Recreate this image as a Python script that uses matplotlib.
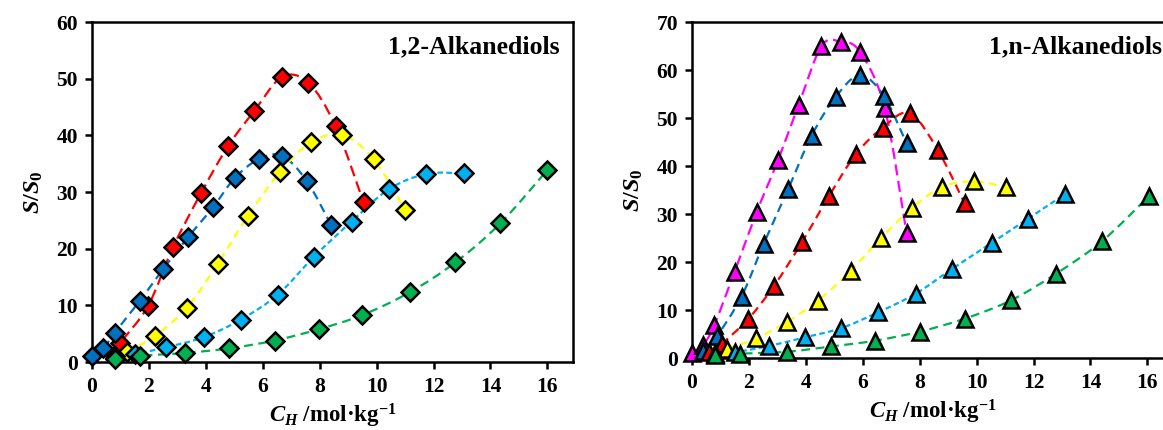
import matplotlib
matplotlib.use("Agg")
import matplotlib.pyplot as plt
from matplotlib.path import Path
from matplotlib.patches import PathPatch
import numpy as np

plt.rcParams['font.family'] = ['Liberation Serif', 'DejaVu Serif']
plt.rcParams['font.weight'] = 'bold'
plt.rcParams['mathtext.fontset'] = 'custom'
plt.rcParams['mathtext.rm'] = 'Liberation Serif:bold'
plt.rcParams['mathtext.bf'] = 'Liberation Serif:bold'
plt.rcParams['mathtext.it'] = 'Liberation Serif:italic:bold'

# ---- 1,2-alkanediols (diamonds) ----
l_red_x = [0.8, 1.0, 1.97, 2.85, 3.83, 4.78, 5.7, 6.67, 7.6, 8.56, 9.54]
l_red_y = [1.2, 3.4, 9.9, 20.3, 29.8, 38.1, 44.3, 50.3, 49.3, 41.6, 28.2]
l_dblue_x = [0.0, 0.4, 0.8, 1.68, 2.5, 3.37, 4.25, 5.02, 5.86, 6.67, 7.54, 8.4]
l_dblue_y = [1.0, 2.4, 5.2, 10.8, 16.4, 22.0, 27.3, 32.5, 35.8, 36.4, 32.0, 24.2]
l_yel_x = [0.8, 1.23, 2.2, 3.33, 4.41, 5.48, 6.6, 7.7, 8.8, 9.9, 11.0]
l_yel_y = [0.8, 1.8, 4.6, 9.6, 17.3, 25.8, 33.5, 38.8, 40.0, 35.8, 26.8]
l_lblue_x = [0.8, 1.5, 2.6, 3.93, 5.23, 6.53, 7.8, 9.12, 10.43, 11.75, 13.06]
l_lblue_y = [1.0, 1.4, 2.6, 4.4, 7.5, 11.9, 18.6, 24.8, 30.5, 33.2, 33.3]
l_green_x = [0.8, 1.68, 3.26, 4.8, 6.42, 7.97, 9.5, 11.16, 12.77, 14.35, 16.0]
l_green_y = [0.6, 1.1, 1.6, 2.4, 3.8, 5.8, 8.3, 12.3, 17.6, 24.5, 33.9]

# ---- 1,n-alkanediols (triangles) ----
r_mag_x = [0.0, 0.4, 0.78, 1.5, 2.28, 3.03, 3.75, 4.55, 5.22, 5.9, 6.77, 7.54]
r_mag_y = [1.0, 2.8, 6.8, 18.0, 30.5, 41.3, 52.8, 65.0, 65.9, 63.8, 52.1, 26.0]
r_dblue_x = [0.4, 0.87, 1.74, 2.52, 3.38, 4.2, 5.05, 5.9, 6.74, 7.54]
r_dblue_y = [1.5, 4.5, 12.8, 23.8, 35.2, 46.3, 54.4, 58.9, 54.6, 44.7]
r_red_x = [0.6, 1.05, 1.97, 2.88, 3.86, 4.81, 5.75, 6.7, 7.65, 8.63, 9.58]
r_red_y = [1.2, 3.0, 8.1, 15.0, 24.1, 33.7, 42.4, 48.0, 51.0, 43.4, 32.2]
r_yel_x = [0.8, 1.23, 2.25, 3.33, 4.42, 5.58, 6.63, 7.72, 8.77, 9.9, 11.05]
r_yel_y = [1.0, 1.9, 4.1, 7.5, 11.9, 18.2, 24.9, 31.2, 35.6, 36.8, 35.6]
r_lblue_x = [0.8, 1.5, 2.7, 3.96, 5.23, 6.53, 7.86, 9.12, 10.53, 11.8, 13.12]
r_lblue_y = [0.8, 1.2, 2.5, 4.3, 6.2, 9.5, 13.4, 18.5, 24.0, 29.0, 34.2]
r_green_x = [0.8, 1.68, 3.33, 4.88, 6.42, 8.0, 9.58, 11.2, 12.8, 14.4, 16.05]
r_green_y = [0.6, 0.9, 1.3, 2.4, 3.6, 5.5, 8.2, 12.0, 17.6, 24.3, 33.7]

RED = '#FF0000'
DBLUE = '#0070C0'
YEL = '#FFFF00'
LBLUE = '#00B0F0'
GREEN = '#00B050'
MAG = '#FF00FF'


def smooth_curve(ax, x, y, color, dashes):
    # Excel-like smoothed line: cubic Bezier segments through the data points
    x = np.asarray(x, float)
    y = np.asarray(y, float)
    n = len(x)
    verts = [(x[0], y[0])]
    codes = [Path.MOVETO]
    for i in range(n - 1):
        i0 = max(i - 1, 0)
        i3 = min(i + 2, n - 1)
        c1 = (x[i] + (x[i + 1] - x[i0]) / 6, y[i] + (y[i + 1] - y[i0]) / 6)
        c2 = (x[i + 1] - (x[i3] - x[i]) / 6, y[i + 1] - (y[i3] - y[i]) / 6)
        verts += [c1, c2, (x[i + 1], y[i + 1])]
        codes += [Path.CURVE4] * 3
    patch = PathPatch(Path(verts, codes), fill=False, edgecolor=color,
                      linewidth=1.6, zorder=2)
    patch.set_linestyle((0, dashes))
    ax.add_patch(patch)


def style_axes(ax, ymax, ystep):
    for s in ax.spines.values():
        s.set_linewidth(1.8)
    ax.tick_params(axis='both', direction='out', length=5, width=1.8,
                   labelsize=15.5, top=False, right=False)
    ax.tick_params(axis='x', pad=6)
    ax.tick_params(axis='y', pad=5)
    ax.set_xlim(0, 16.9)
    ax.set_ylim(0, ymax)
    ax.set_xticks(np.arange(0, 17, 2))
    ax.set_yticks(np.arange(0, ymax + 1, ystep))
    for lab in ax.get_xticklabels() + ax.get_yticklabels():
        lab.set_fontweight('bold')
    ax.set_xlabel(r'$C_H$ /mol·kg$^{-1}$', fontsize=16.5, fontweight='bold', labelpad=3)
    ax.set_ylabel(r'$S/S_0$', fontsize=17.5, labelpad=8)


fig = plt.figure(figsize=(11.63, 4.30), dpi=100)
ax1 = fig.add_axes([0.0791, 0.158, 0.4136, 0.7908])
ax2 = fig.add_axes([0.595, 0.1674, 0.4136, 0.7814])

left_series = [
    (l_red_x, l_red_y, RED, (5, 2.5)),
    (l_dblue_x, l_dblue_y, DBLUE, (4, 2.5)),
    (l_yel_x, l_yel_y, YEL, (3.5, 2.5)),
    (l_lblue_x, l_lblue_y, LBLUE, (2.5, 1.5)),
    (l_green_x, l_green_y, GREEN, (4, 2.5)),
]
right_series = [
    (r_mag_x, r_mag_y, MAG, (5, 2.5)),
    (r_dblue_x, r_dblue_y, DBLUE, (4, 2.5)),
    (r_red_x, r_red_y, RED, (4, 2.5)),
    (r_yel_x, r_yel_y, YEL, (3.5, 2.5)),
    (r_lblue_x, r_lblue_y, LBLUE, (2.5, 1.5)),
    (r_green_x, r_green_y, GREEN, (4, 2.5)),
]

for xs, ys, c, d in left_series:
    smooth_curve(ax1, xs, ys, c, d)
for xs, ys, c, d in left_series:
    ax1.plot(xs, ys, linestyle='none', marker='D', markersize=9.5,
             markerfacecolor=c, markeredgecolor='black', markeredgewidth=1.8,
             zorder=3, clip_on=False)

for xs, ys, c, d in right_series:
    smooth_curve(ax2, xs, ys, c, d)
for xs, ys, c, d in right_series:
    ax2.plot(xs, ys, linestyle='none', marker='^', markersize=11,
             markerfacecolor=c, markeredgecolor='black', markeredgewidth=1.8,
             zorder=3, clip_on=False)

style_axes(ax1, 60, 10)
style_axes(ax2, 70, 10)

ax1.text(0.973, 0.926, '1,2-Alkanediols', transform=ax1.transAxes,
         ha='right', va='center', fontsize=18.5, fontweight='bold')
ax2.text(0.977, 0.926, '1,n-Alkanediols', transform=ax2.transAxes,
         ha='right', va='center', fontsize=18.5, fontweight='bold')

plt.savefig('out.png', dpi=100)
